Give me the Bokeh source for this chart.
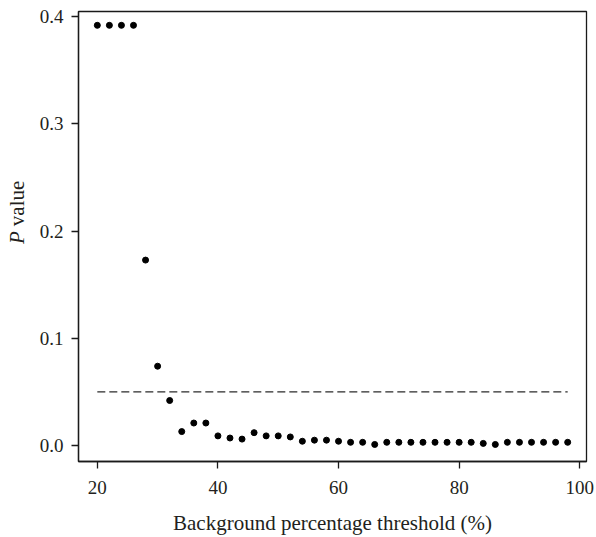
import math
from bokeh.plotting import figure
from bokeh.layouts import row
from bokeh.models import FixedTicker, PrintfTickFormatter, Range1d
from bokeh.core.properties import value
from bokeh.embed import file_html
from bokeh.resources import INLINE

# ---- data ----
thresholds = [20, 22, 24, 26, 28, 30, 32, 34, 36, 38,
              40, 42, 44, 46, 48, 50, 52, 54, 56, 58,
              60, 62, 64, 66, 68, 70, 72, 74, 76, 78,
              80, 82, 84, 86, 88, 90, 92, 94, 96, 98]
p_values = [0.392, 0.392, 0.392, 0.392, 0.173, 0.074, 0.042, 0.013, 0.021, 0.021,
            0.009, 0.007, 0.006, 0.012, 0.009, 0.009, 0.008, 0.004, 0.005, 0.005,
            0.004, 0.003, 0.003, 0.001, 0.003, 0.003, 0.003, 0.003, 0.003, 0.003,
            0.003, 0.003, 0.002, 0.001, 0.003, 0.003, 0.003, 0.003, 0.003, 0.003]
significance = 0.05
x_ticks = [20, 40, 60, 80, 100]
y_ticks = [0.0, 0.1, 0.2, 0.3, 0.4]
x_title = "Background percentage threshold (%)"
y_title_italic = "P"
y_title_rest = "value"

FONT = "Liberation Serif"
TXT = "#231f20"
TOP, BOTTOM = 11, 74
LEFT_W = 30

y_range = Range1d(-0.0149, 0.4049)

# ---- narrow strip holding the rotated y-axis title ----
lab = figure(width=LEFT_W, height=537, output_backend="svg", toolbar_location=None,
             x_range=Range1d(0, LEFT_W), y_range=y_range,
             x_axis_type=None, y_axis_type=None,
             min_border_left=0, min_border_right=0, min_border_top=TOP, min_border_bottom=BOTTOM)
lab.outline_line_color = None
lab.xgrid.visible = False
lab.ygrid.visible = False
lab.background_fill_color = "white"
lab.border_fill_color = "white"
lab_x = 16
lab_y = 0.20
lab.text(x=[lab_x], y=[lab_y], text=[y_title_italic], angle=math.pi / 2,
         text_font=value(FONT), text_font_size="21px", text_font_style="italic",
         text_color=TXT, text_align="right", text_baseline="middle")
lab.text(x=[lab_x], y=[lab_y], text=[y_title_rest], angle=math.pi / 2, y_offset=-5,
         text_font=value(FONT), text_font_size="21px", text_font_style="normal",
         text_color=TXT, text_align="left", text_baseline="middle")

# ---- main plot ----
p = figure(width=596 - LEFT_W, height=537, output_backend="svg", toolbar_location=None,
           x_range=Range1d(16.88, 101.12), y_range=y_range,
           min_border_left=78 - LEFT_W, min_border_right=10,
           min_border_top=TOP, min_border_bottom=BOTTOM)
p.background_fill_color = "white"
p.border_fill_color = "white"
p.outline_line_color = "#1a1a1a"
p.outline_line_width = 1.3
p.xgrid.visible = False
p.ygrid.visible = False

for ax in (p.xaxis[0], p.yaxis[0]):
    ax.axis_line_color = "#1a1a1a"
    ax.axis_line_width = 1.3
    ax.major_tick_line_color = "#1a1a1a"
    ax.major_tick_line_width = 1.3
    ax.major_tick_in = 0
    ax.major_tick_out = 7
    ax.minor_tick_line_color = None
    ax.major_label_text_font = FONT
    ax.major_label_text_font_size = "19px"
    ax.major_label_text_color = TXT

p.xaxis.ticker = FixedTicker(ticks=x_ticks)
p.yaxis.ticker = FixedTicker(ticks=y_ticks)
p.yaxis.formatter = PrintfTickFormatter(format="%.1f")
p.xaxis.major_label_standoff = 12
p.yaxis.major_label_standoff = 8

p.xaxis.axis_label = x_title
p.xaxis.axis_label_text_font = FONT
p.xaxis.axis_label_text_font_size = "21px"
p.xaxis.axis_label_text_font_style = "normal"
p.xaxis.axis_label_text_color = TXT
p.xaxis.axis_label_standoff = 14

p.segment(x0=min(thresholds), x1=max(thresholds), y0=significance, y1=significance,
          line_color="#2b2b2b", line_width=1.2, line_dash="8 4")
p.scatter(thresholds, p_values, size=6, color="black", line_color="black")

layout = row(lab, p, spacing=0)
open("out.html", "w").write(file_html(layout, INLINE))
